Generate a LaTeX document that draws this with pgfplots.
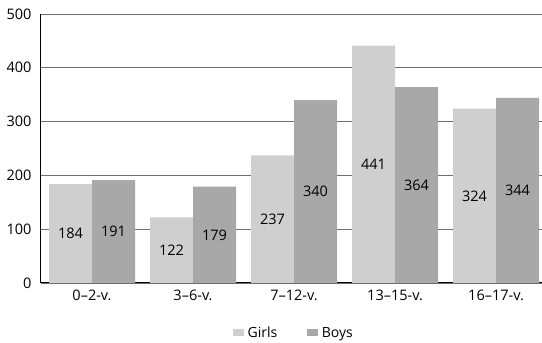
\documentclass[border=0pt]{standalone}
\usepackage{fontspec}
\setmainfont{Open Sans}
\usepackage{pgfplots}
\pgfplotsset{compat=1.18}
\definecolor{girls}{RGB}{207,207,207}
\definecolor{boys}{RGB}{168,168,168}
\definecolor{gridc}{RGB}{110,110,110}
\begin{document}
\begin{tikzpicture}
\begin{axis}[
  name=ax,
  scale only axis,
  width=501pt, height=269pt,
  ybar=0pt, bar width=43pt,
  ymin=0, ymax=500,
  ytick={0,100,200,300,400,500},
  xmin=-0.505, xmax=4.455,
  xtick={0,1,2,3,4},
  xticklabels={0--2-v.,3--6-v.,7--12-v.,13--15-v.,16--17-v.},
  major tick length=0pt,
  axis x line*=bottom, axis y line*=left,
  axis line style={black, line width=1pt, -},
  ymajorgrids, grid style={gridc, line width=0.8pt},
  /pgf/number format/assume math mode=true,
  tick label style={font=\fontsize{14.5}{16}\selectfont},
  yticklabel style={xshift=-6pt},
  xticklabel style={yshift=-3pt},
  visualization depends on={rawy \as \rawy},
  nodes near coords,
  every node near coord/.append style={font=\fontsize{14.5}{16}\selectfont, anchor=center, yshift={-0.269pt*\rawy}},
  legend columns=2,
  legend style={draw=none, at={(axis description cs:0.505,-0.185)}, anchor=center, font=\fontsize{14}{16}\selectfont, column sep=0pt,
    /tikz/every even column/.append style={column sep=28pt},
    /tikz/every odd column/.append style={column sep=1.5pt}},
  legend image code/.code={\fill[#1, draw=none] (0pt,-3.5pt) rectangle (11pt,3.5pt);},
]
\addplot[fill=girls, draw=none] coordinates {(0,184) (1,122) (2,237) (3,441) (4,324)};
\addplot[fill=boys, draw=none] coordinates {(0,191) (1,179) (2,340) (3,364) (4,344)};
\legend{Girls,Boys}
\end{axis}
\pgfresetboundingbox
\path ([xshift=-41pt,yshift=-60pt]ax.south west) rectangle ([yshift=14pt]ax.north east);
\end{tikzpicture}
\end{document}
